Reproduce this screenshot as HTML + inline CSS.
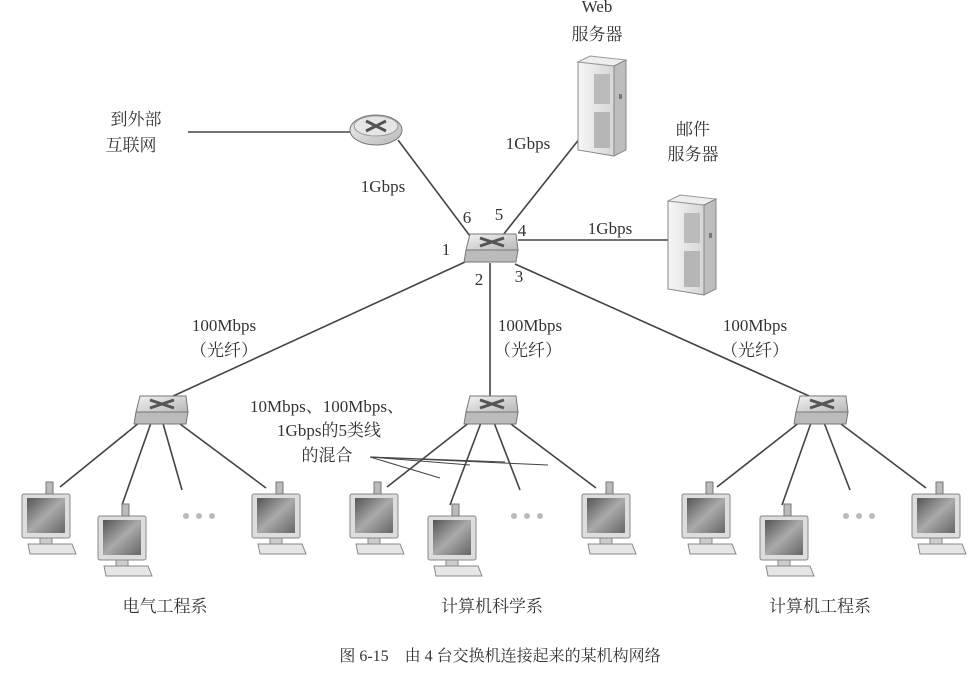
<!DOCTYPE html>
<html><head><meta charset="utf-8"><style>
html,body{margin:0;padding:0;background:#fff;}
svg{display:block;font-family:"Liberation Serif","Noto Serif CJK SC",serif;}
text{fill:#333;font-size:17px;}
</style></head><body>
<svg width="970" height="674" viewBox="0 0 970 674" xmlns="http://www.w3.org/2000/svg">
<defs>
<linearGradient id="g1" x1="0" y1="0" x2="1" y2="1"><stop offset="0" stop-color="#f2f2f2"/><stop offset="1" stop-color="#b8b8b8"/></linearGradient>
<linearGradient id="sf" x1="0" y1="0" x2="1" y2="0"><stop offset="0" stop-color="#f6f6f6"/><stop offset="1" stop-color="#d6d6d6"/></linearGradient>
<linearGradient id="scr" x1="0" y1="0" x2="1" y2="1"><stop offset="0" stop-color="#555"/><stop offset="0.5" stop-color="#aaa"/><stop offset="1" stop-color="#666"/></linearGradient>
<g id="sw">
<polygon points="-20,-14 26,-14 28,2 -24,2" fill="url(#g1)" stroke="#777"/>
<polygon points="-24,2 28,2 26,14 -26,14" fill="#bbb" stroke="#777"/>
<path d="M-10,-10 L14,-2 M-10,-2 L14,-10" stroke="#555" stroke-width="3"/>
</g>
<g id="pc">
<rect x="-2" y="0" width="48" height="44" rx="2" fill="#ddd" stroke="#888"/>
<rect x="3" y="4" width="38" height="35" fill="url(#scr)"/>
<rect x="16" y="44" width="12" height="6" fill="#ccc" stroke="#888"/>
<polygon points="4,50 48,50 52,60 6,60" fill="#e6e6e6" stroke="#888"/>
<rect x="22" y="-12" width="7" height="12" fill="#bbb" stroke="#777"/>
</g>
<g id="srv">
<polygon points="0,6 36,10 36,100 0,94" fill="url(#sf)" stroke="#888"/>
<polygon points="0,6 12,0 48,4 36,10" fill="#eee" stroke="#999"/>
<polygon points="36,10 48,4 48,94 36,100" fill="#bdbdbd" stroke="#888"/>
<rect x="16" y="18" width="16" height="30" fill="#bbb"/>
<rect x="16" y="56" width="16" height="36" fill="#b6b6b6"/>
<rect x="41" y="38" width="3" height="5" fill="#777"/>
</g>
</defs>
<g stroke="#444" stroke-width="1.6" fill="none">
<line x1="188" y1="132" x2="355" y2="132"/>
<line x1="398" y1="140" x2="470" y2="236"/>
<line x1="503" y1="235" x2="588" y2="128"/>
<line x1="518" y1="240" x2="668" y2="240"/>
<line x1="465" y1="262" x2="158" y2="403"/>
<line x1="490" y1="263" x2="490" y2="400"/>
<line x1="515" y1="264" x2="818" y2="400"/>
<line x1="145" y1="418" x2="60" y2="487"/><line x1="152" y1="420" x2="122" y2="505"/><line x1="162" y1="420" x2="182" y2="490"/><line x1="172" y1="418" x2="266" y2="488"/>
<line x1="475" y1="418" x2="387" y2="487"/><line x1="482" y1="420" x2="450" y2="505"/><line x1="493" y1="420" x2="520" y2="490"/><line x1="503" y1="418" x2="596" y2="488"/>
<line x1="805" y1="418" x2="717" y2="487"/><line x1="812" y1="420" x2="782" y2="505"/><line x1="823" y1="420" x2="850" y2="490"/><line x1="833" y1="418" x2="926" y2="488"/>
<line x1="370" y1="457" x2="440" y2="478" stroke-width="1"/><line x1="370" y1="457" x2="470" y2="465" stroke-width="1"/><line x1="370" y1="457" x2="505" y2="462" stroke-width="1"/><line x1="370" y1="457" x2="548" y2="465" stroke-width="1"/>
</g>
<ellipse cx="376" cy="130" rx="26" ry="15" fill="url(#g1)" stroke="#777"/>
<ellipse cx="376" cy="126" rx="22" ry="10" fill="#e6e6e6" stroke="#999"/>
<path d="M366,121 L386,131 M366,131 L386,121" stroke="#555" stroke-width="3"/>
<use href="#sw" x="490" y="248"/>
<use href="#sw" x="160" y="410"/>
<use href="#sw" x="490" y="410"/>
<use href="#sw" x="820" y="410"/>
<use href="#srv" x="578" y="56"/>
<use href="#srv" x="668" y="195"/>
<use href="#pc" x="24" y="494"/><use href="#pc" x="100" y="516"/><use href="#pc" x="254" y="494"/>
<use href="#pc" x="352" y="494"/><use href="#pc" x="430" y="516"/><use href="#pc" x="584" y="494"/>
<use href="#pc" x="684" y="494"/><use href="#pc" x="762" y="516"/><use href="#pc" x="914" y="494"/>
<g fill="#bbb"><circle cx="186" cy="516" r="3"/><circle cx="199" cy="516" r="3"/><circle cx="212" cy="516" r="3"/>
<circle cx="514" cy="516" r="3"/><circle cx="527" cy="516" r="3"/><circle cx="540" cy="516" r="3"/>
<circle cx="846" cy="516" r="3"/><circle cx="859" cy="516" r="3"/><circle cx="872" cy="516" r="3"/></g>
<g text-anchor="middle">
<text x="597" y="12">Web</text><text x="597" y="40">服务器</text>
<text x="693" y="135">邮件</text><text x="693" y="160">服务器</text>
<text x="136" y="125">到外部</text><text x="131" y="151">互联网</text>
<text x="528" y="149">1Gbps</text><text x="383" y="192">1Gbps</text><text x="610" y="234">1Gbps</text>
<text x="467" y="223">6</text><text x="499" y="220">5</text><text x="522" y="236">4</text>
<text x="446" y="255">1</text><text x="479" y="285">2</text><text x="519" y="282">3</text>
<text x="224" y="331">100Mbps</text><text x="224" y="356">（光纤）</text>
<text x="530" y="331">100Mbps</text><text x="528" y="356">（光纤）</text>
<text x="755" y="331">100Mbps</text><text x="755" y="356">（光纤）</text>
<text x="327" y="412">10Mbps、100Mbps、</text>
<text x="329" y="436">1Gbps的5类线</text>
<text x="327" y="461">的混合</text>
<text x="165" y="612">电气工程系</text><text x="492" y="612">计算机科学系</text><text x="820" y="612">计算机工程系</text>
<text x="500" y="661" style="font-size:16px">图 6-15&#160;&#160;&#160;&#160;由 4 台交换机连接起来的某机构网络</text>
</g>
</svg>
</body></html>
